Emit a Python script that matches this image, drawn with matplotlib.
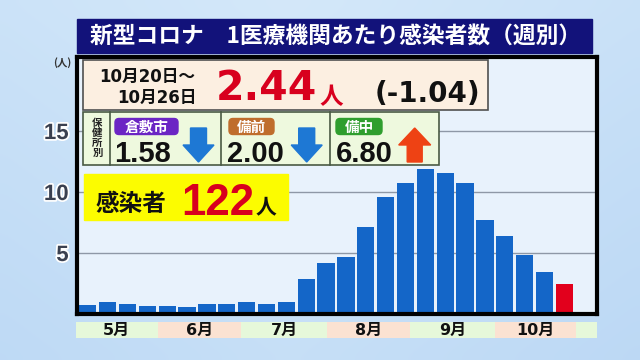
import numpy as np
import matplotlib
matplotlib.use("Agg")
import matplotlib.pyplot as plt
import matplotlib.patheffects as pe
from matplotlib.patches import Rectangle, FancyBboxPatch, Polygon

plt.rcParams["font.family"] = ["DejaVu Sans", "Noto Sans CJK JP"]

# weekly values: patients per medical institution (May .. Oct)
weeks = np.arange(25)
per_clinic = [0.71, 0.98, 0.80, 0.66, 0.69, 0.60, 0.80, 0.80, 0.95, 0.82,
              1.00, 2.90, 4.20, 4.65, 7.10, 9.60, 10.70, 11.86, 11.60, 10.70,
              7.70, 6.40, 4.80, 3.48, 2.44]
months = ["5月", "6月", "7月", "8月", "9月", "10月"]
month_edges = [-0.6, 3.6, 7.77, 12.05, 16.23, 20.51, 24.59, 25.7]

title = "新型コロナ　1医療機関あたり感染者数（週別）"
period = ["10月20日～", "10月26日"]
latest = "2.44"
diff = "(-1.04)"
areas = ["倉敷市", "備前", "備中"]
area_vals = ["1.58", "2.00", "6.80"]
area_up = [False, False, True]
total = "122"

W, H = 640, 360
fig = plt.figure(figsize=(6.4, 3.6), dpi=100)

# background gradient
bg = fig.add_axes([0, 0, 1, 1], zorder=-2)
gx, gy = np.meshgrid(np.linspace(0, 1, 64), np.linspace(0, 1, 36))
g = 0.6 * gy + 0.4 * np.abs(gx - 0.45) * 2
c0 = np.array([0.83, 0.91, 0.98])
c1 = np.array([0.74, 0.85, 0.96])
img = c0 + (c1 - c0) * g[..., None] / g.max()
bg.imshow(img, extent=[0, 1, 0, 1], aspect="auto", interpolation="bicubic")
bg.axis("off")


def frac(x0, y0, x1, y1):
    return [x0 / W, 1 - y1 / H, (x1 - x0) / W, (y1 - y0) / H]


# main bar chart
ax = fig.add_axes(frac(77, 57, 597, 314), zorder=0)
ax.set_facecolor("#e8f2fc")
colors = ["#1466c8"] * (len(weeks) - 1) + ["#e2001c"]
ax.bar(weeks, per_clinic, width=0.87, color=colors, zorder=2)
ax.set_xlim(-0.54, 25.64)
ax.set_ylim(0, 21.07)
ax.set_yticks([5, 10, 15])
ax.set_xticks([])
ax.yaxis.grid(True, color="#8e98a6", lw=1)
ax.set_axisbelow(True)
ax.tick_params(axis="y", length=0, pad=6)
for lab in ax.get_yticklabels():
    lab.set_fontfamily("Liberation Sans")
    lab.set_fontweight("bold")
    lab.set_fontsize(16)
    lab.set_color("#3a4050")
    lab.set_path_effects([pe.withStroke(linewidth=2.5, foreground="white")])
for s in ax.spines.values():
    s.set_linewidth(3)
    s.set_color("black")

# month band
band = fig.add_axes(frac(76, 322, 597, 338), zorder=0)
band.set_xlim(ax.get_xlim())
band.set_ylim(0, 1)
band.axis("off")
band_cols = ["#e6f8da", "#fbe2d2"]
for i in range(len(month_edges) - 1):
    band.axvspan(month_edges[i], month_edges[i + 1], color=band_cols[i % 2], lw=0)
for i, m in enumerate(months):
    band.text((month_edges[i] + month_edges[i + 1]) / 2, 0.5, m, ha="center",
              va="center", fontsize=11.5, fontweight="bold", color="#111")

# overlay in pixel coordinates
ov = fig.add_axes([0, 0, 1, 1], zorder=5)
ov.set_xlim(0, W)
ov.set_ylim(H, 0)
ov.axis("off")

ov.add_patch(Rectangle((77, 19), 515, 34, color="#12127a"))
ov.text(336, 36.5, title, ha="center", va="center", fontsize=16.4,
        fontweight="bold", color="white", family=["Noto Sans CJK JP"])
ov.text(62, 63, "(人)", ha="center", va="center", fontsize=7.5,
        fontweight="bold", color="#333", family=["Noto Sans CJK JP"])

# latest week box
ov.add_patch(Rectangle((83, 60), 405, 50, facecolor="#fcefe1",
                       edgecolor="#505050", lw=1.2))
ov.text(147, 81.5, period[0], ha="center", va="baseline", fontsize=12,
        fontweight="bold", color="#111")
ov.text(157, 103, period[1], ha="center", va="baseline", fontsize=12,
        fontweight="bold", color="#111")
ov.text(266, 100, latest, ha="center", va="baseline", fontsize=29.5,
        fontweight="bold", color="#d8001e")
ov.text(331, 97, "人", ha="center", va="center", fontsize=17,
        fontweight="bold", color="#d8001e", family=["Noto Sans CJK JP"])
ov.text(427, 102, diff, ha="center", va="baseline", fontsize=20,
        fontweight="bold", color="#111")

# health center row
ov.add_patch(Rectangle((83, 112), 356, 53, facecolor="#eef9de",
                       edgecolor="#4a5a44", lw=1.2))
for xd in [110, 221, 330]:
    ov.plot([xd, xd], [112, 165], color="#4a5a44", lw=1.2)
ov.text(97.5, 138, "保\n健\n所\n別", ha="center", va="center", fontsize=7.5,
        linespacing=1.0, fontweight="bold", color="#222",
        family=["Noto Sans CJK JP"])

badge_cols = ["#6b25c4", "#bf6d2c", "#2f9e2e"]
badge_x = [(115, 178), (229, 274), (336, 382)]
val_cx = [142.5, 255, 364]
arrow_cx = [198.5, 306.7, 414.7]
for i in range(3):
    x0, x1 = badge_x[i]
    ov.add_patch(FancyBboxPatch((x0, 118.5), x1 - x0, 16,
                                boxstyle="round,pad=0,rounding_size=4",
                                color=badge_cols[i]))
    ov.text((x0 + x1) / 2, 126.5, areas[i], ha="center", va="center",
            fontsize=10.5, fontweight="bold", color="white",
            family=["Noto Sans CJK JP"])
    ov.text(val_cx[i], 161.5, area_vals[i], ha="center", va="baseline",
            fontsize=21, fontweight="bold", color="#111",
            family=["Liberation Sans"])
    cx = arrow_cx[i]
    if area_up[i]:
        pts = [(cx - 7.5, 162), (cx + 7.5, 162), (cx + 7.5, 145),
               (cx + 16, 145), (cx, 128), (cx - 16, 145), (cx - 7.5, 145)]
        col = "#ee4214"
    else:
        pts = [(cx - 8, 128), (cx + 8, 128), (cx + 8, 145), (cx + 15.5, 145),
               (cx, 162), (cx - 15.5, 145), (cx - 8, 145)]
        col = "#1e78d4"
    ov.add_patch(Polygon(pts, closed=True, color=col))

# total patients box
ov.add_patch(Rectangle((84, 174), 204, 46, color="#fcfc00"))
ov.text(131, 204, "感染者", ha="center", va="center", fontsize=17,
        fontweight="bold", color="#111", family=["Noto Sans CJK JP"])
ov.text(217.5, 215, total, ha="center", va="baseline", fontsize=31.5,
        fontweight="bold", color="#d8001e", family=["Liberation Sans"])
ov.text(266, 207, "人", ha="center", va="center", fontsize=15,
        fontweight="bold", color="#111", family=["Noto Sans CJK JP"])

fig.savefig("out.png", dpi=100)
